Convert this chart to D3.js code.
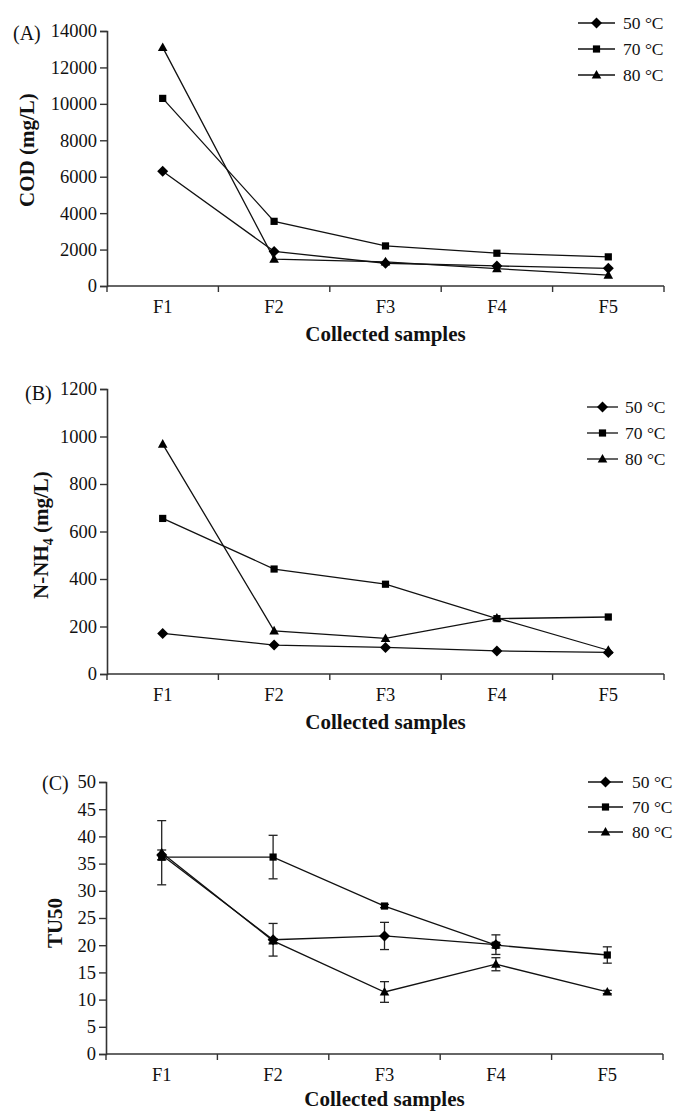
<!DOCTYPE html>
<html><head><meta charset="utf-8">
<script src="https://cdn.jsdelivr.net/npm/d3@7"></script>
<style>
body{margin:0;background:#fff;}
svg{display:block;}
text{font-family:"Liberation Serif","Times New Roman",serif;fill:#111;}
</style></head>
<body>
<svg id="chart" width="674" height="1113"></svg>
<script>
const categories = ["F1","F2","F3","F4","F5"];
const seriesNames = ["50 °C","70 °C","80 °C"];
const markerTypes = ["diamond","square","triangle"];

// Panel A: COD (mg/L)
const codTicks = [0,2000,4000,6000,8000,10000,12000,14000];
const cod50 = [6300,1900,1250,1100,970];
const cod70 = [10300,3550,2200,1800,1600];
const cod80 = [13100,1480,1330,950,600];

// Panel B: N-NH4 (mg/L)
const nhTicks = [0,200,400,600,800,1000,1200];
const nh50 = [171,122,112,97,91];
const nh70 = [655,442,378,233,240];
const nh80 = [968,182,150,236,100];

// Panel C: TU50
const tuTicks = [0,5,10,15,20,25,30,35,40,45,50];
const tu50 = [36.6,21.0,21.7,20.1,null];
const tu70 = [36.2,36.2,27.2,20.0,18.2];
const tu80 = [37.0,20.8,11.4,16.5,11.4];
const tu50err = [0.9,3.0,2.5,1.8,null];
const tu70err = [0.5,4.0,0.3,0.5,1.5];
const tu80err = [5.9,0.4,1.9,1.2,0.3];

const svg = d3.select("#chart");

const panels = [
  {label:"(A)", title:"COD (mg/L)", ticks:codTicks, max:14000, series:[cod50,cod70,cod80], errs:null,
   top:31, bottom:286, left:107, right:664, labX:13, labY:33, titleX:27, titleY:150,
   leg:{x1:578,x2:615,tx:623,y0:23,dy:26}},
  {label:"(B)", title:"N-NH4", ticks:nhTicks, max:1200, series:[nh50,nh70,nh80], errs:null,
   top:389, bottom:674, left:107, right:664, labX:25, labY:393, titleX:41, titleY:535,
   leg:{x1:587,x2:618,tx:625,y0:407,dy:26}},
  {label:"(C)", title:"TU50", ticks:tuTicks, max:50, series:[tu50,tu70,tu80], errs:[tu50err,tu70err,tu80err],
   top:782, bottom:1054, left:106, right:663, labX:42, labY:783, titleX:55, titleY:923,
   leg:{x1:588,x2:623,tx:632,y0:782,dy:25}}
];

function marker(g, type, x, y){
  if(type==="diamond"){
    g.append("path").attr("d",`M${x},${y-5.5}L${x+5.5},${y}L${x},${y+5.5}L${x-5.5},${y}Z`).attr("fill","#000");
  } else if(type==="square"){
    g.append("rect").attr("x",x-3.6).attr("y",y-3.6).attr("width",7.2).attr("height",7.2).attr("fill","#000");
  } else {
    g.append("path").attr("d",`M${x},${y-5}L${x+4.8},${y+3.6}L${x-4.8},${y+3.6}Z`).attr("fill","#000");
  }
}

panels.forEach((p,pi)=>{
  const g = svg.append("g");
  const x = d3.scaleBand().domain(categories).range([p.left,p.right]).padding(0);
  const y = d3.scaleLinear().domain([0,p.max]).range([p.bottom,p.top]);
  const cx = c => x(c)+x.bandwidth()/2;

  // y axis
  const ya = g.append("g").attr("transform",`translate(${p.left},0)`)
    .call(d3.axisLeft(y).tickValues(p.ticks).tickSize(7).tickPadding(3).tickFormat(d3.format("d")));
  ya.select(".domain").attr("stroke","#333").attr("stroke-width",1.6);
  ya.selectAll(".tick line").attr("stroke","#333").attr("stroke-width",1.4);
  ya.selectAll(".tick text").attr("font-size",18.5).attr("font-family","Liberation Serif").attr("fill","#111");

  // x axis: labels at band centers
  const xa = g.append("g").attr("transform",`translate(0,${p.bottom})`)
    .call(d3.axisBottom(x).tickSize(0).tickPadding(14));
  xa.select(".domain").remove();
  xa.selectAll(".tick text").attr("font-size",18.5).attr("font-family","Liberation Serif").attr("fill","#111");
  g.append("line").attr("x1",p.left).attr("x2",p.right).attr("y1",p.bottom).attr("y2",p.bottom)
    .attr("stroke","#333").attr("stroke-width",1.6);
  const edges = categories.map(c=>x(c)).concat([x(categories[categories.length-1])+x.bandwidth()]);
  g.selectAll(".xt").data(edges).enter().append("line")
    .attr("x1",d=>d).attr("x2",d=>d).attr("y1",p.bottom).attr("y2",p.bottom+6)
    .attr("stroke","#333").attr("stroke-width",1.4);

  // x title
  g.append("text").attr("x",(p.left+p.right)/2).attr("y",p.bottom+(pi===2?46:49)).attr("dy","0.3em")
    .attr("text-anchor","middle").attr("font-weight","bold").attr("font-size",21).text("Collected samples");

  // y title
  const yt = g.append("text").attr("transform",`translate(${p.titleX},${p.titleY}) rotate(-90)`)
    .attr("text-anchor","middle").attr("dy","0.35em").attr("font-weight","bold").attr("font-size",21);
  if(p.title==="N-NH4"){
    yt.append("tspan").text("N-NH");
    yt.append("tspan").attr("font-size",14).attr("dy",5).text("4");
    yt.append("tspan").attr("dy",-5).text(" (mg/L)");
  } else yt.text(p.title);

  // panel label
  g.append("text").attr("x",p.labX).attr("y",p.labY).attr("dy","0.35em").attr("font-size",20).text(p.label);

  // error bars
  if(p.errs){
    p.series.forEach((s,si)=>{
      s.forEach((v,i)=>{
        const e = p.errs[si][i];
        if(v==null||e==null) return;
        const X = cx(categories[i]);
        g.append("line").attr("x1",X).attr("x2",X).attr("y1",y(v-e)).attr("y2",y(v+e)).attr("stroke","#222").attr("stroke-width",1.3);
        [v-e,v+e].forEach(t=>g.append("line").attr("x1",X-4.5).attr("x2",X+4.5).attr("y1",y(t)).attr("y2",y(t)).attr("stroke","#222").attr("stroke-width",1.3));
      });
    });
  }

  // lines
  const line = d3.line().defined(d=>d.v!=null).x(d=>cx(d.c)).y(d=>y(d.v));
  p.series.forEach((s,si)=>{
    const data = s.map((v,i)=>({c:categories[i],v}));
    g.append("path").datum(data).attr("d",line).attr("fill","none").attr("stroke","#111").attr("stroke-width",1.3);
  });
  p.series.forEach((s,si)=>{
    s.forEach((v,i)=>{ if(v!=null) marker(g, markerTypes[si], cx(categories[i]), y(v)); });
  });

  // legend
  seriesNames.forEach((n,si)=>{
    const ly = p.leg.y0 + si*p.leg.dy;
    g.append("line").attr("x1",p.leg.x1).attr("x2",p.leg.x2).attr("y1",ly).attr("y2",ly).attr("stroke","#111").attr("stroke-width",1.3);
    marker(g, markerTypes[si], (p.leg.x1+p.leg.x2)/2, ly);
    g.append("text").attr("x",p.leg.tx).attr("y",ly).attr("dy","0.35em").attr("font-size",17.5).text(n);
  });
});
</script>
</body></html>
